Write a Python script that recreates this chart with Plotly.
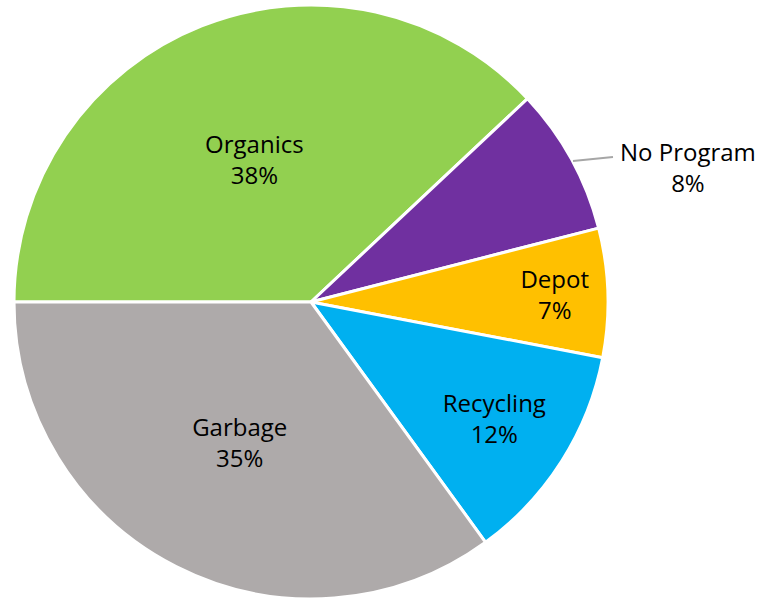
import plotly.graph_objects as go

labels = ["Organics", "No Program", "Depot", "Recycling", "Garbage"]
values = [38, 8, 7, 12, 35]
colors = ["#92D050", "#7030A0", "#FFC000", "#00B0F0", "#AEAAAA"]

W, H = 759, 599
FONT = dict(family="Open Sans", size=24, color="black")

# inside labels for all slices except "No Program", which is labelled outside
templates = ["" if lab == "No Program" else "%{label}<br>%{percent:.0%}" for lab in labels]

fig = go.Figure(go.Pie(
    labels=labels,
    values=values,
    sort=False,
    direction="clockwise",
    rotation=270,
    marker=dict(colors=colors, line=dict(color="white", width=3)),
    texttemplate=templates,
    textposition="inside",
    insidetextorientation="horizontal",
    textfont=FONT,
    showlegend=False,
    hoverinfo="label+percent",
    domain=dict(x=[0, 622 / W], y=[0, 1 - 5 / H]),
))

idx = labels.index("No Program")
pct = round(100 * values[idx] / sum(values))
fig.add_annotation(
    x=688 / W, y=1 - 167 / H, xref="paper", yref="paper",
    text=f"{labels[idx]}<br>{pct}%", showarrow=False,
    font=FONT, xanchor="center", yanchor="middle", align="center",
)
fig.add_shape(
    type="line", xref="paper", yref="paper",
    x0=573 / W, y0=1 - 161 / H, x1=613 / W, y1=1 - 157 / H,
    line=dict(color="#A6A6A6", width=2),
)

fig.update_layout(
    width=W, height=H,
    margin=dict(l=0, r=0, t=0, b=0),
    paper_bgcolor="white",
    plot_bgcolor="white",
)

fig.write_html("out.html", config={"displayModeBar": False},
               post_script="document.body.style.margin='0';")
